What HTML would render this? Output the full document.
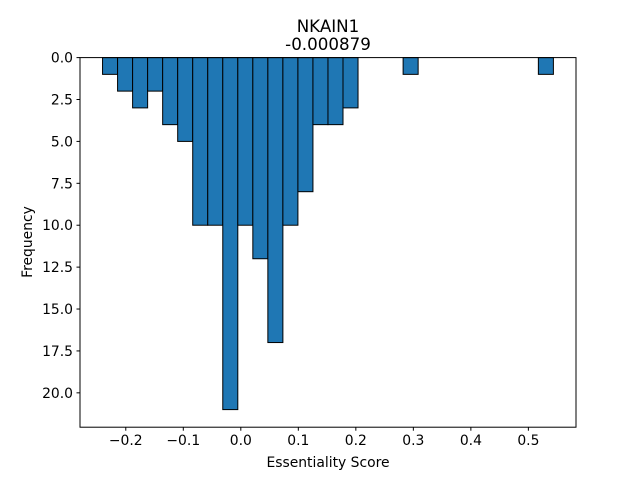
<!DOCTYPE html>
<html><head><meta charset="utf-8"><style>body{margin:0;background:#fff}svg{display:block;font-family:"DejaVu Sans","Liberation Sans",sans-serif}</style></head>
<body>
<svg id="c" width="640" height="480"></svg>
<script>
const counts=[1,2,3,2,4,5,10,10,21,10,12,17,10,8,4,4,3,0,0,0,1,0,0,0,0,0,0,0,0,1];
const binStart=-0.2404, binWidth=0.02613;
const xTicks=[-0.2,-0.1,0.0,0.1,0.2,0.3,0.4,0.5];
const xTickLabels=["\u22120.2","\u22120.1","0.0","0.1","0.2","0.3","0.4","0.5"];
const yTicks=[0,2.5,5,7.5,10,12.5,15,17.5,20];
const yTickLabels=["0.0","2.5","5.0","7.5","10.0","12.5","15.0","17.5","20.0"];
const L=80,R=576,T=57.6,B=427.2,xmin=-0.2796,xmax=0.5828,ymax=22.05;
const X=v=>L+(v-xmin)/(xmax-xmin)*(R-L), Y=v=>T+v/ymax*(B-T);
const s=document.getElementById('c'),NS='http://www.w3.org/2000/svg';
function mk(t,a,p){const e=document.createElementNS(NS,t);for(const k in a)e.setAttribute(k,a[k]);(p||s).appendChild(e);return e;}
counts.forEach((c,i)=>{if(!c)return;const x0=X(binStart+i*binWidth),x1=X(binStart+(i+1)*binWidth);
const r=mk('rect',{x:x0,y:Y(0),width:x1-x0,height:Y(c)-Y(0),fill:'#1f77b4',stroke:'#000','stroke-width':1});

});
const f=mk('rect',{x:L,y:T,width:R-L,height:B-T,fill:'none',stroke:'#000','stroke-width':1});


xTicks.forEach((v,i)=>{const x=X(v);mk('line',{x1:x,x2:x,y1:B,y2:B+3.5,stroke:'#000'});
const t=mk('text',{x:x,y:B+18,'font-size':13.9,'text-anchor':'middle'});t.textContent=xTickLabels[i];

});
yTicks.forEach((v,i)=>{const y=Y(v);mk('line',{x1:L-3.5,x2:L,y1:y,y2:y,stroke:'#000'});
const t=mk('text',{x:L-7,y:y+5,'font-size':13.9,'text-anchor':'end'});t.textContent=yTickLabels[i];

});
let t=mk('text',{x:328,y:467,'font-size':13.9,'text-anchor':'middle'});t.textContent='Essentiality Score';


t=mk('text',{x:32,y:242,'font-size':13.9,'text-anchor':'middle',transform:'rotate(-90 32 242)'});t.textContent='Frequency';


t=mk('text',{x:328,y:32,'font-size':16.7,'text-anchor':'middle'});t.textContent='NKAIN1';


t=mk('text',{x:328,y:50,'font-size':16.7,'text-anchor':'middle'});t.textContent='-0.000879';


</script>
</body></html>
